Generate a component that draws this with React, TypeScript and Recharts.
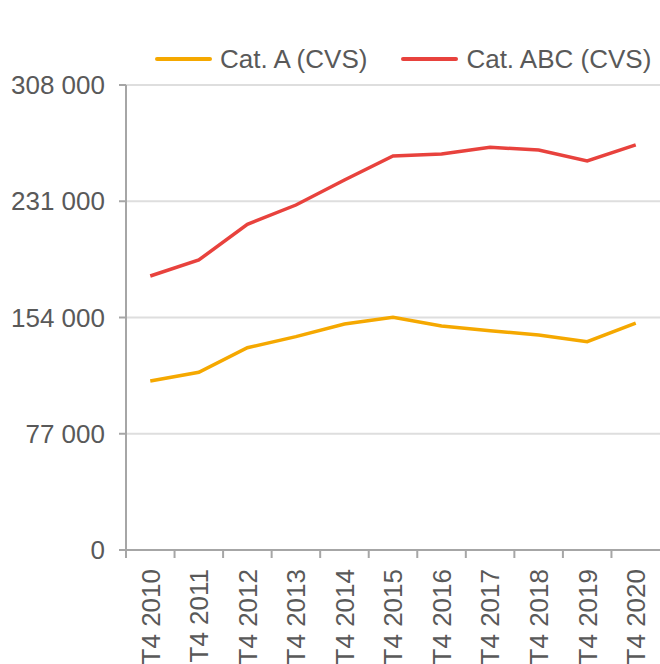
import { LineChart, Line, XAxis, YAxis, CartesianGrid, Legend } from "recharts";

const periods = ["T4 2010", "T4 2011", "T4 2012", "T4 2013", "T4 2014", "T4 2015", "T4 2016", "T4 2017", "T4 2018", "T4 2019", "T4 2020"];
const catA = [111900, 117700, 134000, 141300, 149700, 154100, 148400, 145300, 142400, 138000, 150200];
const catABC = [181500, 192100, 215700, 228500, 245100, 261000, 262300, 266700, 265000, 257700, 268300];
const yTicks = [0, 77000, 154000, 231000, 308000];

const data = periods.map((p, i) => ({ period: p, a: catA[i], abc: catABC[i] }));

const FONT = "'Liberation Sans', Arial, sans-serif";
const TEXT = "#595959";
const AXIS = "#a6a6a6";
const FS = 26;
const W = 660;
const H = 664;
const LEFT = 126;
const halfBand = (W - LEFT) / periods.length / 2;

const fmt = (v: number) => v.toLocaleString("fr-FR").replace(/\s/g, " ");

function XTick(props: any) {
  const { x, y, payload } = props;
  return (
    <g>
      <line x1={x - halfBand} x2={x - halfBand} y1={y} y2={y + 8} stroke={AXIS} strokeWidth={2} />
      <text
        x={0}
        y={0}
        transform={`translate(${x},${y + 19}) rotate(-90)`}
        textAnchor="end"
        dy="0.36em"
        fill={TEXT}
        fontSize={FS}
        fontFamily={FONT}
      >
        {payload.value}
      </text>
    </g>
  );
}

function LegendBox(props: any) {
  const items = props.payload || [];
  return (
    <div style={{ display: "flex", flexWrap: "nowrap", whiteSpace: "nowrap", fontFamily: FONT, fontSize: FS, color: TEXT, lineHeight: "30px" }}>
      {items.map((it: any) => (
        <div key={it.value} style={{ display: "flex", flexShrink: 0, alignItems: "center", marginRight: 34 }}>
          <span style={{ display: "inline-block", width: 57, height: 4, background: it.color, marginRight: 8, borderRadius: 2 }} />
          <span>{it.value}</span>
        </div>
      ))}
    </div>
  );
}

export default function App() {
  return (
    <div style={{ position: "absolute", left: 0, top: 0, background: "#fff" }}>
      <LineChart width={W} height={H} data={data} margin={{ top: 55, right: 0, bottom: 0, left: 0 }}>
        <CartesianGrid vertical={false} stroke="#dedede" strokeWidth={2} />
        <XAxis
          dataKey="period"
          scale="band"
          interval={0}
          height={114}
          tickLine={false}
          tickSize={0}
          tickMargin={0}
          tick={<XTick />}
          axisLine={{ stroke: AXIS, strokeWidth: 2 }}
        />
        <YAxis
          width={LEFT}
          domain={[0, 308000]}
          ticks={yTicks}
          tickFormatter={fmt}
          tickSize={7}
          tickMargin={14}
          axisLine={{ stroke: AXIS, strokeWidth: 2 }}
          tickLine={{ stroke: AXIS, strokeWidth: 2 }}
          tick={{ fill: TEXT, fontSize: FS, fontFamily: FONT }}
        />
        <Legend
          verticalAlign="top"
          align="left"
          content={<LegendBox />}
          wrapperStyle={{ top: 44, left: 155, width: 505 }}
        />
        <Line
          name="Cat. A (CVS)"
          dataKey="a"
          stroke="#F5A800"
          strokeWidth={3.5}
          dot={false}
          isAnimationActive={false}
        />
        <Line
          name="Cat. ABC (CVS)"
          dataKey="abc"
          stroke="#E8423D"
          strokeWidth={3.5}
          dot={false}
          isAnimationActive={false}
        />
      </LineChart>
    </div>
  );
}
